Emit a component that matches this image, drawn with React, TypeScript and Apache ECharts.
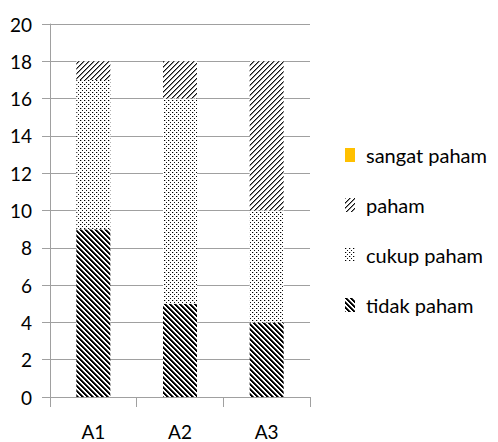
import React, { useEffect, useRef } from "react";
import * as echarts from "echarts";

const categories = ["A1", "A2", "A3"];
const tidakPaham = [9, 5, 4];
const cukupPaham = [8, 11, 6];
const paham = [1, 2, 8];
const sangatPaham = [0, 0, 0];
const yTicks = { min: 0, max: 20, interval: 2 };

const FONT = "Lato, 'Open Sans', sans-serif";

function makeTile(size: number, pixels: Array<[number, number, string]>) {
  const c = document.createElement("canvas");
  c.width = size;
  c.height = size;
  const ctx = c.getContext("2d")!;
  ctx.fillStyle = "#ffffff";
  ctx.fillRect(0, 0, size, size);
  for (const [x, y, col] of pixels) {
    ctx.fillStyle = col;
    ctx.fillRect(x, y, 1, 1);
  }
  return { image: c.toDataURL(), repeat: "repeat", imageWidth: size, imageHeight: size } as any;
}

export default function App() {
  const ref = useRef<HTMLDivElement>(null);
  useEffect(() => {
    if (!ref.current) return;
    const chart = echarts.init(ref.current, undefined, { renderer: "svg" });

    // tidak paham: thick "\" stripes
    const tidakPx: Array<[number, number, string]> = [];
    for (let i = 0; i < 5; i++) {
      tidakPx.push([i, i, "#000"]);
      tidakPx.push([(i + 1) % 5, i, "#000"]);
      tidakPx.push([(i + 2) % 5, i, "#555"]);
    }
    // paham: thin "/" stripes
    const pahamPx: Array<[number, number, string]> = [];
    for (let i = 0; i < 5; i++) {
      pahamPx.push([4 - i, i, "#111"]);
      pahamPx.push([(5 - i) % 5, i, "#888"]);
    }
    // cukup paham: dots
    const cukupPx: Array<[number, number, string]> = [
      [0, 0, "#000"],
      [1, 0, "#bbb"],
      [2, 2, "#111"],
    ];
    const tidakPat = makeTile(5, tidakPx);
    const pahamPat = makeTile(5, pahamPx);
    const cukupPat = makeTile(4, cukupPx);

    const barW = 34;
    chart.setOption({
      animation: false,
      grid: { left: 50, right: 188, top: 24, bottom: 45 },
      legend: {
        orient: "vertical",
        left: 340,
        top: 140,
        itemGap: 30,
        itemWidth: 10,
        itemHeight: 14,
        icon: "rect",
        data: ["sangat paham", "paham", "cukup paham", "tidak paham"],
        textStyle: { fontFamily: FONT, fontSize: 20, color: "#000", padding: [0, 0, 0, 6] },
      },
      xAxis: {
        type: "category",
        data: categories,
        axisLine: { lineStyle: { color: "#a0a0a0" } },
        axisTick: { show: true, length: 10, lineStyle: { color: "#a0a0a0" } },
        axisLabel: { fontFamily: FONT, fontSize: 19, color: "#000", margin: 25 },
      },
      yAxis: {
        type: "value",
        min: yTicks.min,
        max: yTicks.max,
        interval: yTicks.interval,
        axisLine: { show: true, lineStyle: { color: "#a0a0a0" } },
        axisTick: { show: true, length: 8, lineStyle: { color: "#a0a0a0" } },
        splitLine: { lineStyle: { color: "#a0a0a0" } },
        axisLabel: { fontFamily: FONT, fontSize: 19, color: "#000", margin: 18 },
      },
      series: [
        { name: "tidak paham", type: "bar", stack: "s", data: tidakPaham, barWidth: barW, itemStyle: { color: tidakPat } },
        { name: "cukup paham", type: "bar", stack: "s", data: cukupPaham, barWidth: barW, itemStyle: { color: cukupPat } },
        { name: "paham", type: "bar", stack: "s", data: paham, barWidth: barW, itemStyle: { color: pahamPat } },
        { name: "sangat paham", type: "bar", stack: "s", data: sangatPaham, barWidth: barW, itemStyle: { color: "#FFC000" } },
      ],
    });
    return () => chart.dispose();
  }, []);
  return <div ref={ref} style={{ position: "absolute", left: 0, top: 0, width: 498, height: 442 }} />;
}
